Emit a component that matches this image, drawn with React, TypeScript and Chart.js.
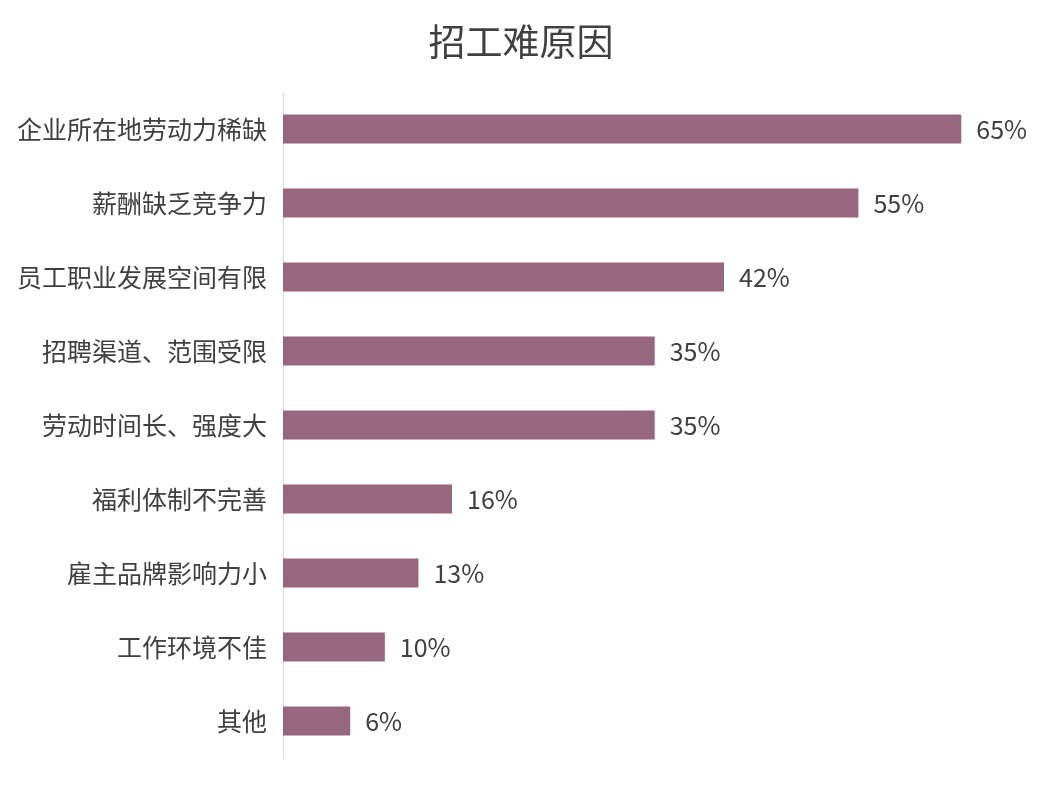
import { useEffect, useRef } from "react"
import { Chart, registerables } from "chart.js"

Chart.register(...registerables)

const title = "招工难原因"
const categories = [
  "企业所在地劳动力稀缺",
  "薪酬缺乏竞争力",
  "员工职业发展空间有限",
  "招聘渠道、范围受限",
  "劳动时间长、强度大",
  "福利体制不完善",
  "雇主品牌影响力小",
  "工作环境不佳",
  "其他",
]
// shares in percent
const shares = [64.6, 54.8, 42.0, 35.4, 35.4, 16.1, 12.9, 9.7, 6.4]
const axisMax = 70

const FONT = "'Noto Sans CJK SC', 'Noto Sans', sans-serif"
const TEXT = "#404040"
const BAR = "#97667f"

// title centred on the whole canvas (the built-in one centres on the padded box)
const centredTitle = {
  id: "centredTitle",
  afterDraw(chart: Chart) {
    const { ctx, width } = chart
    ctx.save()
    ctx.font = `37px ${FONT}`
    ctx.fillStyle = TEXT
    ctx.textAlign = "center"
    ctx.textBaseline = "middle"
    ctx.fillText(title, width / 2, 42)
    ctx.restore()
  },
}

// draws the "65%" style labels right of each bar
const valueLabels = {
  id: "valueLabels",
  afterDatasetsDraw(chart: Chart) {
    const { ctx } = chart
    const meta = chart.getDatasetMeta(0)
    ctx.save()
    ctx.font = `25px ${FONT}`
    ctx.fillStyle = TEXT
    ctx.textAlign = "left"
    ctx.textBaseline = "middle"
    meta.data.forEach((bar: any, i: number) => {
      ctx.fillText(`${Math.round(shares[i])}%`, bar.x + 15, bar.y)
    })
    ctx.restore()
  },
}

export default function App() {
  const chartRef = useRef<HTMLCanvasElement>(null)
  const chartInstance = useRef<Chart | null>(null)

  useEffect(() => {
    if (!chartRef.current) return
    if (chartInstance.current) chartInstance.current.destroy()

    const ctx = chartRef.current.getContext("2d")
    if (!ctx) return

    chartInstance.current = new Chart(ctx, {
      type: "bar",
      data: {
        labels: categories,
        datasets: [
          {
            data: shares,
            backgroundColor: BAR,
            barPercentage: 0.39,
            categoryPercentage: 1,
          },
        ],
      },
      options: {
        indexAxis: "y",
        responsive: true,
        maintainAspectRatio: false,
        animation: false,
        layout: { padding: { left: 0, right: 24, top: 92, bottom: 37 } },
        scales: {
          x: { display: false, min: 0, max: axisMax },
          y: {
            grid: { display: false, drawTicks: false },
            border: { display: true, color: "#d9d9d9", width: 1 },
            ticks: {
              color: TEXT,
              padding: 16,
              font: { family: FONT, size: 25 },
            },
            afterFit: (scale: any) => {
              scale.width = 283
            },
          },
        },
        plugins: {
          legend: { display: false },
          tooltip: { enabled: false },
          title: { display: false },
        },
      },
      plugins: [valueLabels, centredTitle],
    })

    return () => {
      if (chartInstance.current) {
        chartInstance.current.destroy()
        chartInstance.current = null
      }
    }
  }, [])

  return (
    <div style={{ position: "fixed", left: 0, top: 0, width: 1042, height: 795, background: "#fff" }}>
      <canvas ref={chartRef} />
    </div>
  )
}
